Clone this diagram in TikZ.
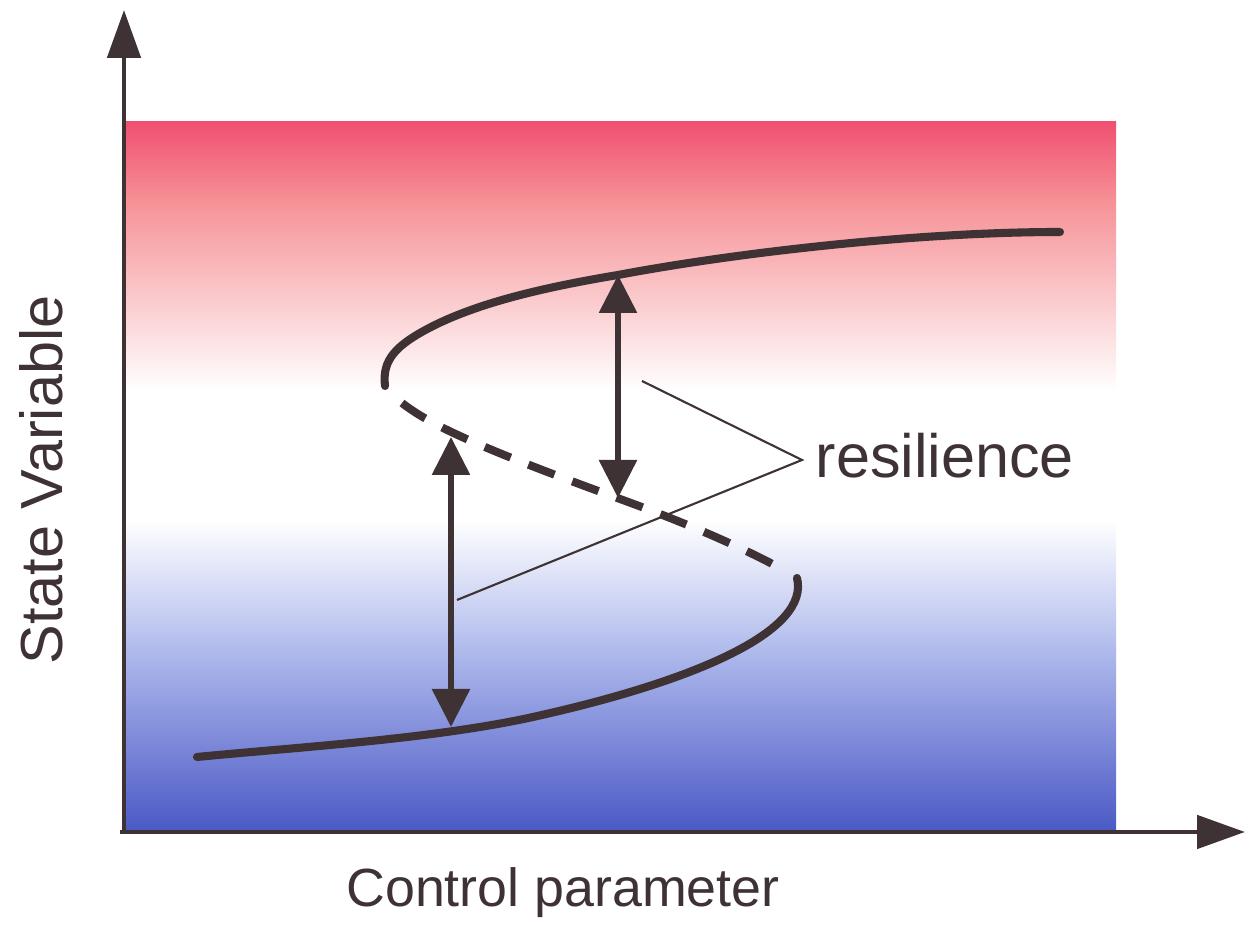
\documentclass[tikz,border=0pt]{standalone}
\usepackage{fontspec}
\setmainfont{Liberation Sans}
\usetikzlibrary{arrows.meta}
\definecolor{ink}{RGB}{62,50,52}
\definecolor{redtop}{RGB}{240,80,112}
\definecolor{redmid}{RGB}{246,145,150}
\definecolor{bluemid}{RGB}{175,186,236}
\definecolor{bluebot}{RGB}{76,90,198}
\begin{document}
\begin{tikzpicture}[
  axis/.style={draw=ink, line width=1.4pt, -{Triangle[length=4.8mm,width=3.3mm]}},
  branch/.style={draw=ink, line width=2.3pt, line cap=round},
  unstable/.style={draw=ink, line width=2.3pt, dash pattern=on 2.8mm off 1.9mm},
  gap/.style={draw=ink, line width=1.7pt, {Triangle[length=3.8mm,width=3.7mm]}-{Triangle[length=3.8mm,width=3.7mm]}},
  pointer/.style={draw=ink, line width=0.6pt},
  lbl/.style={text=ink, inner sep=0pt},
]
\useasboundingbox (0,0) rectangle (12.49,9.30);
% background gradient
\shade[top color=redtop, bottom color=redmid] (1.26,7.28) rectangle (11.16,8.08);
\shade[top color=redmid, bottom color=white] (1.26,5.39) rectangle (11.16,7.30);
\shade[top color=white, bottom color=bluemid] (1.26,2.79) rectangle (11.16,4.10);
\shade[top color=bluemid, bottom color=bluebot] (1.26,1.00) rectangle (11.16,2.80);
% axes
\coordinate (yo) at (1.24,0.96);
\coordinate (ytip) at (1.24,9.20);
\coordinate (xo) at (1.20,0.98);
\coordinate (xtip) at (12.45,0.98);
\draw[axis] (yo) -- (ytip);
\draw[axis] (xo) -- (xtip);
% S-shaped curve
\coordinate (u0) at (3.85,5.44);
\coordinate (u1) at (4.35,6.05);
\coordinate (u2) at (6.18,6.55);
\coordinate (u3) at (10.60,6.98);
\draw[branch] (u0) .. controls (3.82,5.70) and (3.95,5.85) .. (u1)
  .. controls (4.8,6.27) and (5.4,6.42) .. (u2)
  .. controls (7.4,6.78) and (9.2,6.98) .. (u3);
\coordinate (m0) at (4.02,5.27);
\coordinate (m1) at (6.20,4.31);
\coordinate (m2) at (7.78,3.63);
\draw[unstable] (m0) .. controls (4.3,5.05) and (4.8,4.82) .. (m1)
  .. controls (7.0,4.02) and (7.5,3.78) .. (m2);
\coordinate (l0) at (7.97,3.52);
\coordinate (l1) at (5.33,2.13);
\coordinate (l2) at (1.97,1.73);
\draw[branch] (l0) .. controls (8.10,3.00) and (7.0,2.50) .. (l1)
  .. controls (4.33,1.91) and (3.0,1.83) .. (l2);
% resilience arrows
\coordinate (a1t) at (6.18,6.55);
\coordinate (a1b) at (6.18,4.32);
\coordinate (a2t) at (4.51,4.93);
\coordinate (a2b) at (4.51,2.03);
\draw[gap] (a1t) -- (a1b);
\draw[gap] (a2t) -- (a2b);
% label and pointers
\node[lbl, anchor=base west, font=\fontsize{17.4}{20}\selectfont] (res) at (8.15,4.52) {resilience};
\coordinate (pv) at (8.02,4.70);
\coordinate (p1) at (6.42,5.49);
\coordinate (p2) at (4.57,3.30);
\draw[pointer] (p1) -- (pv) -- (p2);
% axis labels
\node[lbl, anchor=base, rotate=90, font=\fontsize{16.9}{20}\selectfont] (ylab) at (0.62,4.50) {State Variable};
\node[lbl, anchor=base, font=\fontsize{15.3}{18}\selectfont] (xlab) at (5.63,0.23) {Control parameter};
\end{tikzpicture}
\end{document}
